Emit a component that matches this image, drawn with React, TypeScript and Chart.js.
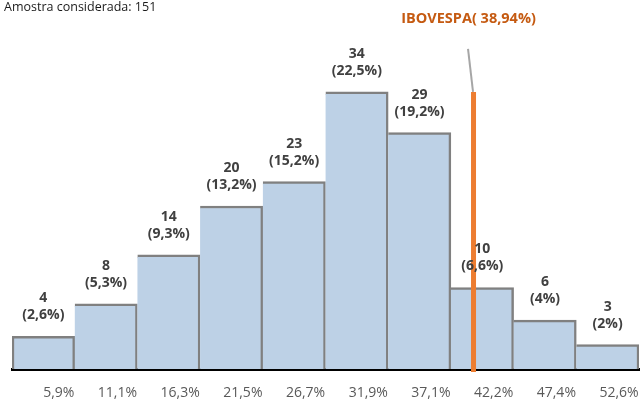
import React, { useEffect, useRef } from "react";
import { Chart, registerables } from "chart.js";

Chart.register(...registerables);

const binLabels = ["5,9%", "11,1%", "16,3%", "21,5%", "26,7%", "31,9%", "37,1%", "42,2%", "47,4%", "52,6%"];
const binUpper = [5.9, 11.1, 16.3, 21.5, 26.7, 31.9, 37.1, 42.2, 47.4, 52.6];
const counts = [4, 8, 14, 20, 23, 34, 29, 10, 6, 3];
const shares = ["2,6%", "5,3%", "9,3%", "13,2%", "15,2%", "22,5%", "19,2%", "6,6%", "4%", "2%"];
const sampleTitle = "Amostra considerada: 151";
const ibovLabel = "IBOVESPA( 38,94%)";
const ibovValue = 38.94;
const ibovLineTop = 34;

const FONT = "'Open Sans', sans-serif";

const overlayPlugin = {
  id: "overlay",
  afterDatasetsDraw(chart: any) {
    const { ctx, scales } = chart;
    const x = scales.x;
    const y = scales.y;
    const meta = chart.getDatasetMeta(0);
    const half = (x.getPixelForValue(1) - x.getPixelForValue(0)) / 2;

    // IBOVESPA line
    let idx = binUpper.findIndex((v) => v >= ibovValue);
    const lo = idx > 0 ? binUpper[idx - 1] : 0;
    const hi = binUpper[idx];
    const leftEdge = x.getPixelForValue(idx) - half;
    const px = leftEdge + ((ibovValue - lo) / (hi - lo)) * (2 * half);
    const topY = y.getPixelForValue(ibovLineTop);
    const baseY = y.getPixelForValue(0);

    ctx.save();
    ctx.strokeStyle = "#ED7D31";
    ctx.lineWidth = 5;
    ctx.beginPath();
    ctx.moveTo(px, topY);
    ctx.lineTo(px, baseY + 3);
    ctx.stroke();

    // leader line
    ctx.strokeStyle = "#A6A6A6";
    ctx.lineWidth = 2;
    ctx.beginPath();
    ctx.moveTo(px - 5.5, topY - 43);
    ctx.lineTo(px - 0.5, topY);
    ctx.stroke();

    // IBOVESPA label
    ctx.fillStyle = "#C55A11";
    ctx.font = `bold 14.5px ${FONT}`;
    ctx.textAlign = "center";
    ctx.textBaseline = "middle";
    ctx.fillText(ibovLabel, px - 5, 19);

    // data labels
    ctx.fillStyle = "#404040";
    ctx.font = `bold 14px ${FONT}`;
    meta.data.forEach((bar: any, i: number) => {
      ctx.fillText(String(counts[i]), bar.x, bar.y - 38);
      ctx.fillText(`(${shares[i]})`, bar.x, bar.y - 21);
    });

    // sample title
    ctx.fillStyle = "#1a1a1a";
    ctx.font = `12.5px ${FONT}`;
    ctx.textAlign = "left";
    ctx.fillText(sampleTitle, 4, 7);
    ctx.restore();
  },
};

export default function App() {
  const ref = useRef<HTMLCanvasElement | null>(null);
  useEffect(() => {
    if (!ref.current) return;
    const chart = new Chart(ref.current, {
      type: "bar",
      data: {
        labels: binLabels,
        datasets: [
          {
            data: counts,
            backgroundColor: "#BDD1E6",
            borderColor: "#808080",
            borderSkipped: false,
            borderWidth: (c: any) => ({ top: 2.5, right: 2.5, bottom: 0, left: c.dataIndex === 0 ? 2.5 : 0 }),
            barPercentage: 1,
            categoryPercentage: 1,
          },
        ],
      },
      options: {
        animation: false,
        responsive: false,
        maintainAspectRatio: false,
        layout: { padding: { top: 43, left: 12, right: 2, bottom: 0 } },
        plugins: { legend: { display: false }, tooltip: { enabled: false }, title: { display: false } },
        scales: {
          x: {
            grid: { display: false, drawTicks: false },
            border: { display: true, color: "#000000", width: 3 },
            afterFit: (scale: any) => {
              scale.height = 31;
              scale.paddingLeft = 0;
              scale.paddingRight = 0;
            },
            ticks: {
              color: "#595959",
              font: { family: FONT, size: 14 },
              align: "end",
              labelOffset: 31,
              padding: 16,
              maxRotation: 0,
              autoSkip: false,
            },
          },
          y: {
            display: false,
            min: 0,
            max: 40,
          },
        },
      },
      plugins: [overlayPlugin],
    } as any);
    return () => chart.destroy();
  }, []);
  return (
    <div style={{ position: "fixed", left: 0, top: 0, width: 641, height: 400 }}>
      <canvas ref={ref} width={641} height={400} style={{ width: 641, height: 400 }} />
    </div>
  );
}
